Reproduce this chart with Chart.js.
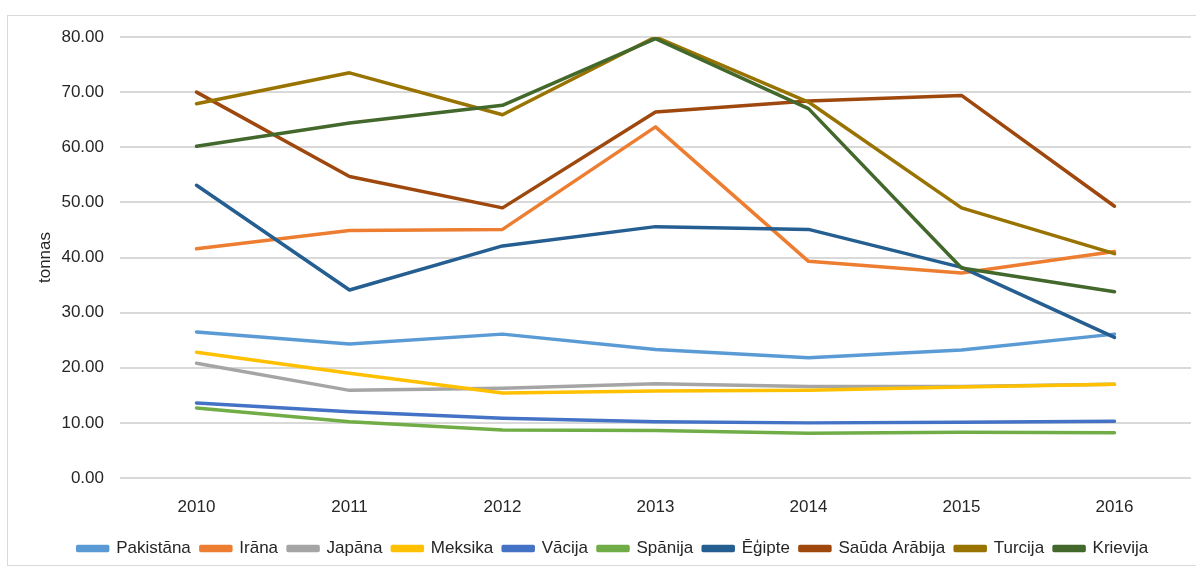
<!DOCTYPE html>
<html>
<head>
<meta charset="utf-8">
<script src="https://cdn.jsdelivr.net/npm/chart.js@4/dist/chart.umd.min.js"></script>
<style>
html,body{margin:0;padding:0;background:#fff;}
#wrap{position:absolute;left:0;top:0;width:1196px;height:569px;}
</style>
</head>
<body>
<div id="wrap"><canvas id="c" width="1196" height="569"></canvas></div>
<script>
const years = ["2010","2011","2012","2013","2014","2015","2016"];
const seriesNames = ["Pakistāna","Irāna","Japāna","Meksika","Vācija","Spānija","Ēģipte","Saūda Arābija","Turcija","Krievija"];
const seriesColors = ["#5B9BD5","#ED7D31","#A5A5A5","#FFC000","#4472C4","#70AD47","#255E91","#9E480E","#997300","#43682B"];
const pakistana = [26.5, 24.3, 26.1, 23.3, 21.8, 23.2, 26.1];
const irana     = [41.6, 44.9, 45.1, 63.7, 39.3, 37.2, 41.1];
const japana    = [20.8, 15.9, 16.3, 17.1, 16.6, 16.6, 17.0];
const meksika   = [22.8, 19.0, 15.4, 15.8, 15.9, 16.5, 17.0];
const vacija    = [13.6, 12.0, 10.85, 10.2, 10.0, 10.1, 10.3];
const spanija   = [12.7, 10.2, 8.7, 8.6, 8.1, 8.3, 8.2];
const egipte    = [53.1, 34.1, 42.1, 45.6, 45.1, 38.2, 25.5];
const sauda     = [70.0, 54.7, 49.0, 66.4, 68.4, 69.4, 49.3];
const turcija   = [67.9, 73.5, 65.9, 80.0, 68.2, 49.0, 40.7];
const krievija  = [60.2, 64.4, 67.6, 79.7, 67.0, 38.1, 33.8];
const seriesValues = [pakistana, irana, japana, meksika, vacija, spanija, egipte, sauda, turcija, krievija];
const yTicks = {min:0, max:80, step:10};

const FONT = "'Liberation Sans', Arial, sans-serif";
const TXT = '#262626';

const borderPlugin = {
  id:'frame',
  beforeDraw(chart){
    const ctx = chart.ctx;
    ctx.save();
    ctx.fillStyle='#fff';
    ctx.fillRect(0,0,chart.width,chart.height);
    ctx.strokeStyle='#d9d9d9';
    ctx.lineWidth=1;
    ctx.strokeRect(7.5,15.5,1200,550);
    ctx.restore();
  }
};

new Chart(document.getElementById('c'), {
  type:'line',
  data:{
    labels: years,
    datasets: seriesNames.map((n,i)=>({
      label:n,
      data:seriesValues[i],
      borderColor:seriesColors[i],
      backgroundColor:seriesColors[i],
      borderWidth:3.5,
      pointRadius:0,
      tension:0,
      order: seriesNames.length - i,
      borderJoinStyle:'round',
      borderCapStyle:'round'
    }))
  },
  options:{
    responsive:false,
    animation:false,
    devicePixelRatio:1,
    layout:{padding:{left:35, top:37, right:5, bottom:2}},
    plugins:{
      legend:{
        position:'bottom',
        labels:{
          boxWidth:30, boxHeight:4,
          padding:10,
          color:TXT,
          font:{family:FONT, size:17},
          sort:(a,b)=>a.datasetIndex-b.datasetIndex
        }
      },
      tooltip:{enabled:false}
    },
    scales:{
      x:{
        offset:true,
        grid:{display:false},
        border:{display:false},
        ticks:{color:TXT, font:{family:FONT, size:17}, padding:11},
        afterFit(s){ s.height = 52; }
      },
      y:{
        min:yTicks.min, max:yTicks.max,
        ticks:{stepSize:yTicks.step, color:TXT, font:{family:FONT, size:17}, padding:16,
          callback:v=>v.toFixed(2)},
        grid:{color:'#d9d9d9', lineWidth:2, drawTicks:false},
        border:{display:false},
        title:{display:true, text:'tonnas', color:TXT, font:{family:FONT, size:17}, padding:{top:0,bottom:6}},
        afterFit(s){ s.width = 85; }
      }
    }
  },
  plugins:[borderPlugin]
});
</script>
</body>
</html>
